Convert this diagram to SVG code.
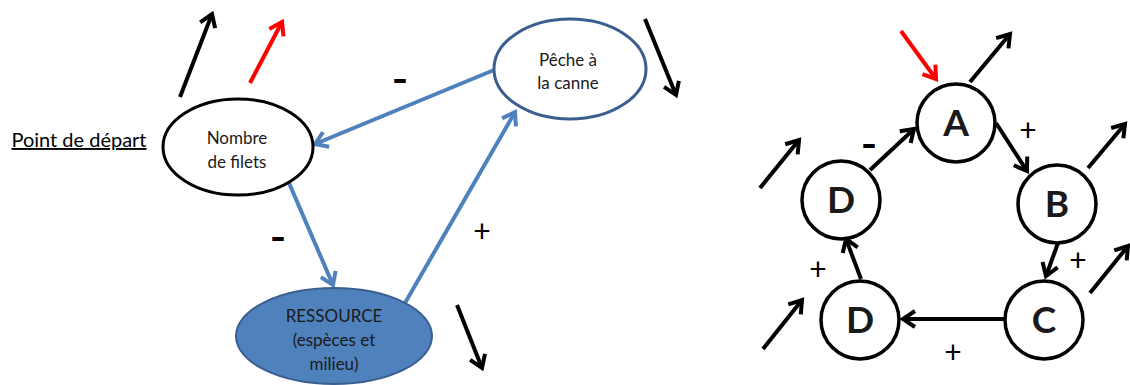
<svg xmlns="http://www.w3.org/2000/svg" width="1130" height="385" viewBox="0 0 1130 385">
<style>
.t{font-family:Lato,"Liberation Sans",sans-serif;fill:#1a1a1a;text-anchor:middle}
.lbl{font-size:17px}
.big{font-size:37px;font-weight:bold}
.sign{font-family:Lato,"Liberation Sans",sans-serif;font-size:30px;fill:#000;text-anchor:middle}
.dash{font-family:"Liberation Sans",sans-serif;font-size:34px;font-weight:bold;fill:#000;text-anchor:middle}
.blk{stroke:#000;stroke-width:4;fill:none;marker-end:url(#mb)}
.red{stroke:#ff0000;stroke-width:4;fill:none;marker-end:url(#mr)}
.blu{stroke:#4f81bd;stroke-width:4;fill:none;marker-end:url(#mu)}
.circ{fill:#fff;stroke:#000;stroke-width:3.5}
</style>
<defs>
<marker id="mb" viewBox="0 0 20 20" refX="16" refY="10" markerWidth="20" markerHeight="20" markerUnits="userSpaceOnUse" orient="auto"><path d="M4,2 L16,10 L4,18" fill="none" stroke="#000" stroke-width="4"/></marker>
<marker id="mr" viewBox="0 0 20 20" refX="16" refY="10" markerWidth="20" markerHeight="20" markerUnits="userSpaceOnUse" orient="auto"><path d="M4,2 L16,10 L4,18" fill="none" stroke="#ff0000" stroke-width="4"/></marker>
<marker id="mu" viewBox="0 0 20 20" refX="16" refY="10" markerWidth="20" markerHeight="20" markerUnits="userSpaceOnUse" orient="auto"><path d="M4,2 L16,10 L4,18" fill="none" stroke="#4f81bd" stroke-width="4"/></marker>
</defs>
<rect width="1130" height="385" fill="#fff"/>

<g id="connectors">
<line class="blu" x1="494" y1="70" x2="315" y2="144"/>
<line class="blu" x1="289" y1="183" x2="333" y2="285"/>
<line class="blu" x1="405" y1="303" x2="515" y2="112"/>
<line class="blk" x1="180" y1="97" x2="212" y2="14"/>
<line class="red" x1="250" y1="83" x2="282" y2="22"/>
<line class="blk" x1="645" y1="19" x2="676" y2="95"/>
<line class="blk" x1="457" y1="305" x2="482" y2="368"/>
<line class="red" x1="901" y1="31" x2="936" y2="79"/>
<line class="blk" x1="970" y1="82" x2="1010" y2="34"/>
<line class="blk" x1="996" y1="123" x2="1027" y2="171"/>
<line class="blk" x1="1088" y1="168" x2="1125" y2="124"/>
<line class="blk" x1="1058" y1="243" x2="1046" y2="276"/>
<line class="blk" x1="1090" y1="293" x2="1128" y2="246"/>
<line class="blk" x1="1004" y1="319" x2="903" y2="319"/>
<line class="blk" x1="861" y1="279" x2="846" y2="239"/>
<line class="blk" x1="763" y1="349" x2="802" y2="300"/>
<line class="blk" x1="870" y1="170" x2="914" y2="129"/>
<line class="blk" x1="760" y1="188" x2="799" y2="140"/>
</g>

<g id="labels">
<text x="79" y="147" class="t" style="font-size:19px;fill:#000;text-decoration:underline" textLength="135" lengthAdjust="spacingAndGlyphs">Point de départ</text>
<text x="400" y="90" class="dash" textLength="15" lengthAdjust="spacingAndGlyphs">-</text>
<text x="278" y="248" class="dash" textLength="15" lengthAdjust="spacingAndGlyphs">-</text>
<text x="482" y="242" class="sign">+</text>
<text x="869" y="155" class="dash" textLength="15" lengthAdjust="spacingAndGlyphs">-</text>
<text x="1028" y="141" class="sign">+</text>
<text x="1078" y="271" class="sign">+</text>
<text x="953" y="363" class="sign">+</text>
<text x="818" y="280" class="sign">+</text>
</g>

<g id="nombre">
<ellipse cx="238" cy="147" rx="75" ry="48" fill="#fff" stroke="#000" stroke-width="3"/>
<text x="237" y="144" class="t lbl">Nombre</text>
<text x="237" y="168" class="t lbl">de filets</text>
</g>
<g id="peche">
<ellipse cx="570" cy="69" rx="76" ry="50" fill="#fff" stroke="#3a5f8f" stroke-width="3"/>
<text x="568" y="66" class="t lbl">Pêche à</text>
<text x="568" y="89" class="t lbl">la canne</text>
</g>
<g id="ressource">
<ellipse cx="334" cy="336" rx="98" ry="48" fill="#4f81bd" stroke="#3a5f8f" stroke-width="2"/>
<text x="334" y="322" class="t lbl">RESSOURCE</text>
<text x="334" y="346" class="t lbl">(espèces et</text>
<text x="334" y="370" class="t lbl">milieu)</text>
</g>

<g id="nodeA"><circle cx="956" cy="123" r="39" class="circ"/><text x="956" y="136" class="t big">A</text></g>
<g id="nodeB"><circle cx="1057" cy="204" r="39" class="circ"/><text x="1057" y="217" class="t big">B</text></g>
<g id="nodeC"><circle cx="1044" cy="320" r="39" class="circ"/><text x="1044" y="333" class="t big">C</text></g>
<g id="nodeD2"><circle cx="860" cy="320" r="39" class="circ"/><text x="860" y="333" class="t big">D</text></g>
<g id="nodeD1"><circle cx="841" cy="200" r="39" class="circ"/><text x="841" y="213" class="t big">D</text></g>
</svg>
